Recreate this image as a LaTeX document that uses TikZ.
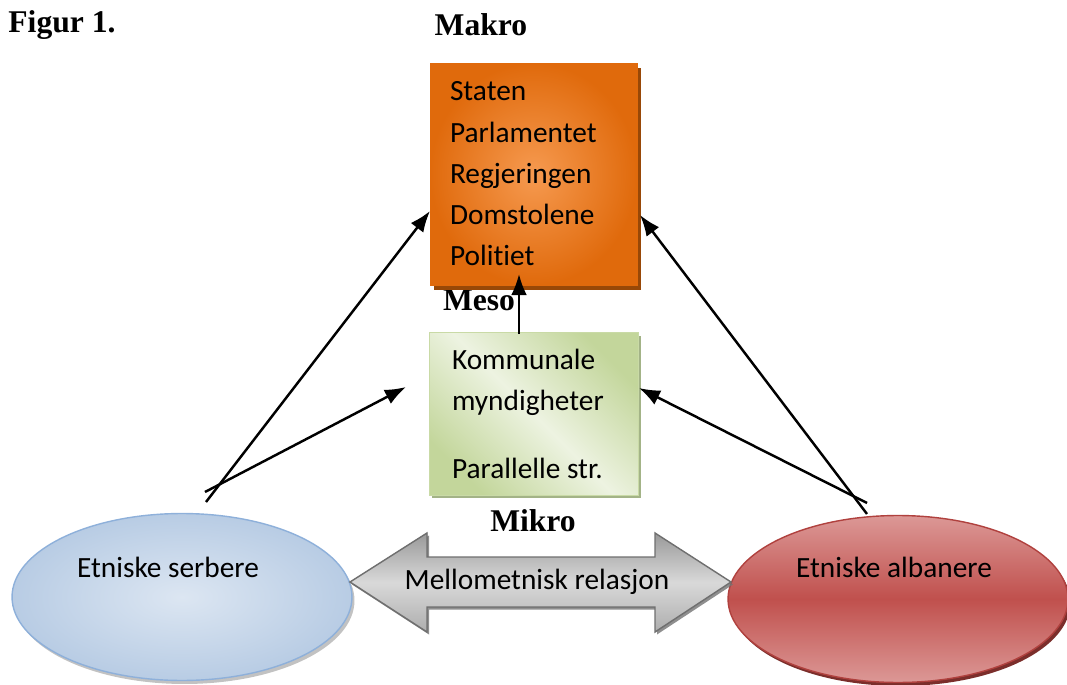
\documentclass[tikz,border=0pt]{standalone}
\usepackage{fontspec}
\setmainfont{Carlito}[Ligatures=CommonOff]
\newfontfamily\headfont{Liberation Serif}
\usetikzlibrary{shapes.geometric,shadows,arrows.meta}

\definecolor{makroout}{HTML}{E06A0C}
\definecolor{makroin}{HTML}{F69A50}
\definecolor{makroshade}{HTML}{984807}
\definecolor{mesodark}{HTML}{C3D69B}
\definecolor{mesolight}{HTML}{EDF3E1}
\definecolor{mesoline}{HTML}{C9DAA6}
\definecolor{mesoshade}{HTML}{A3B387}
\definecolor{serbin}{HTML}{DCE6F2}
\definecolor{serbout}{HTML}{B8CCE4}
\definecolor{serbline}{HTML}{8EB0DA}
\definecolor{albmid}{HTML}{C0504D}
\definecolor{albedge}{HTML}{DC9896}
\definecolor{albline}{HTML}{B0413E}
\definecolor{relline}{HTML}{6F6F6F}

\begin{document}
\begin{tikzpicture}[x=0.02cm,y=-0.02cm]

    \tikzset{
      headlabel/.style={font=\headfont\fontsize{18}{20}\selectfont\bfseries, inner sep=0pt},
      levelbox/.style={
        rectangle,
        align=flush left,
        inner ysep=0pt,
        font=\fontsize{16.7}{23.5}\selectfont,
      },
      group/.style={ellipse, minimum width=6.8cm, minimum height=3.34cm},
      grouplabel/.style={font=\fontsize{16.7}{20}\selectfont, inner sep=0pt},
      link/.style={line width=1.4pt, >={Latex[length=12pt,width=9pt]}, ->},
    }
    \useasboundingbox (0,0) rectangle (1067,685);

	\node[headlabel] (fig) at (62,25) {Figur 1.};
	\node[headlabel] (makrolabel) at (481,25) {Makro};
	\node[headlabel] (mesolabel) at (479,300) {Meso};
	\node[headlabel] (mikrolabel) at (533,521) {Mikro};

	\node[levelbox, draw=makroout, inner color=makroin, outer color=makroout,
	  drop shadow={shadow xshift=0.08cm, shadow yshift=-0.1cm, fill=makroshade, opacity=1},
	  minimum width=4.14cm, minimum height=4.44cm, text width=3.34cm, inner xsep=0.4cm]
	  (makro) at (533.5,174) {Staten\\Parlamentet\\Regjeringen\\Domstolene\\Politiet};

	\node[levelbox, draw=mesoline, top color=mesodark, bottom color=mesodark, middle color=mesolight, shading angle=-45,
	  drop shadow={shadow xshift=0.06cm, shadow yshift=-0.06cm, fill=mesoshade, opacity=1},
	  minimum width=4.18cm, minimum height=3.26cm, text width=3.26cm, inner xsep=0.46cm]
	  (meso) at (533.5,414) {Kommunale\\myndigheter\\[15pt]Parallelle str.};

	\node[group, draw=serbline, line width=0.8pt, inner color=serbin, outer color=serbout,
	  drop shadow={shadow xshift=0.05cm, shadow yshift=-0.07cm, fill=black!40, opacity=0.6}]
	  (serb) at (182,597) {};
	\node[grouplabel] (serblabel) at (168,567) {Etniske serbere};

	\node[group, draw=albline, line width=0.8pt, top color=albedge, bottom color=albedge, middle color=albmid,
	  drop shadow={shadow xshift=0.05cm, shadow yshift=-0.07cm, fill=albline!70!black, opacity=1}]
	  (alb) at (898,599) {};
	\node[grouplabel] (alblabel) at (894,567) {Etniske albanere};

	\filldraw[draw=relline, line width=0.8pt, top color=black!40, bottom color=black!32, middle color=black!15,
	  drop shadow={shadow xshift=0.04cm, shadow yshift=-0.05cm, fill=black!55, opacity=0.8}]
	  (350,582) -- (427,533) -- (427,557) -- (655,557) -- (655,533) -- (731,582)
	  -- (655,632) -- (655,607) -- (427,607) -- (427,632) -- cycle;
	\node[grouplabel] (rel) at (537,582) {Mellometnisk relasjon};

	\coordinate (serbtop) at (206,502);
	\coordinate (serbmid) at (205,492);
	\coordinate (albtop) at (867,514);
	\coordinate (albmid) at (867,503);
	\coordinate (mesotop) at (519,334);
	\coordinate (makrobot) at (519,274);
	\coordinate (mesoleft) at (406,387);
	\coordinate (makroleft) at (430,211);
	\coordinate (makroright) at (640,215);
	\coordinate (mesoright) at (639,388);

	\draw[link] (serbtop) -- (makroleft);
	\draw[link] (serbmid) -- (mesoleft);
	\draw[link] (albtop) -- (makroright);
	\draw[link] (albmid) -- (mesoright);
	\draw[link] (mesotop) -- (makrobot);

\end{tikzpicture}
\end{document}
